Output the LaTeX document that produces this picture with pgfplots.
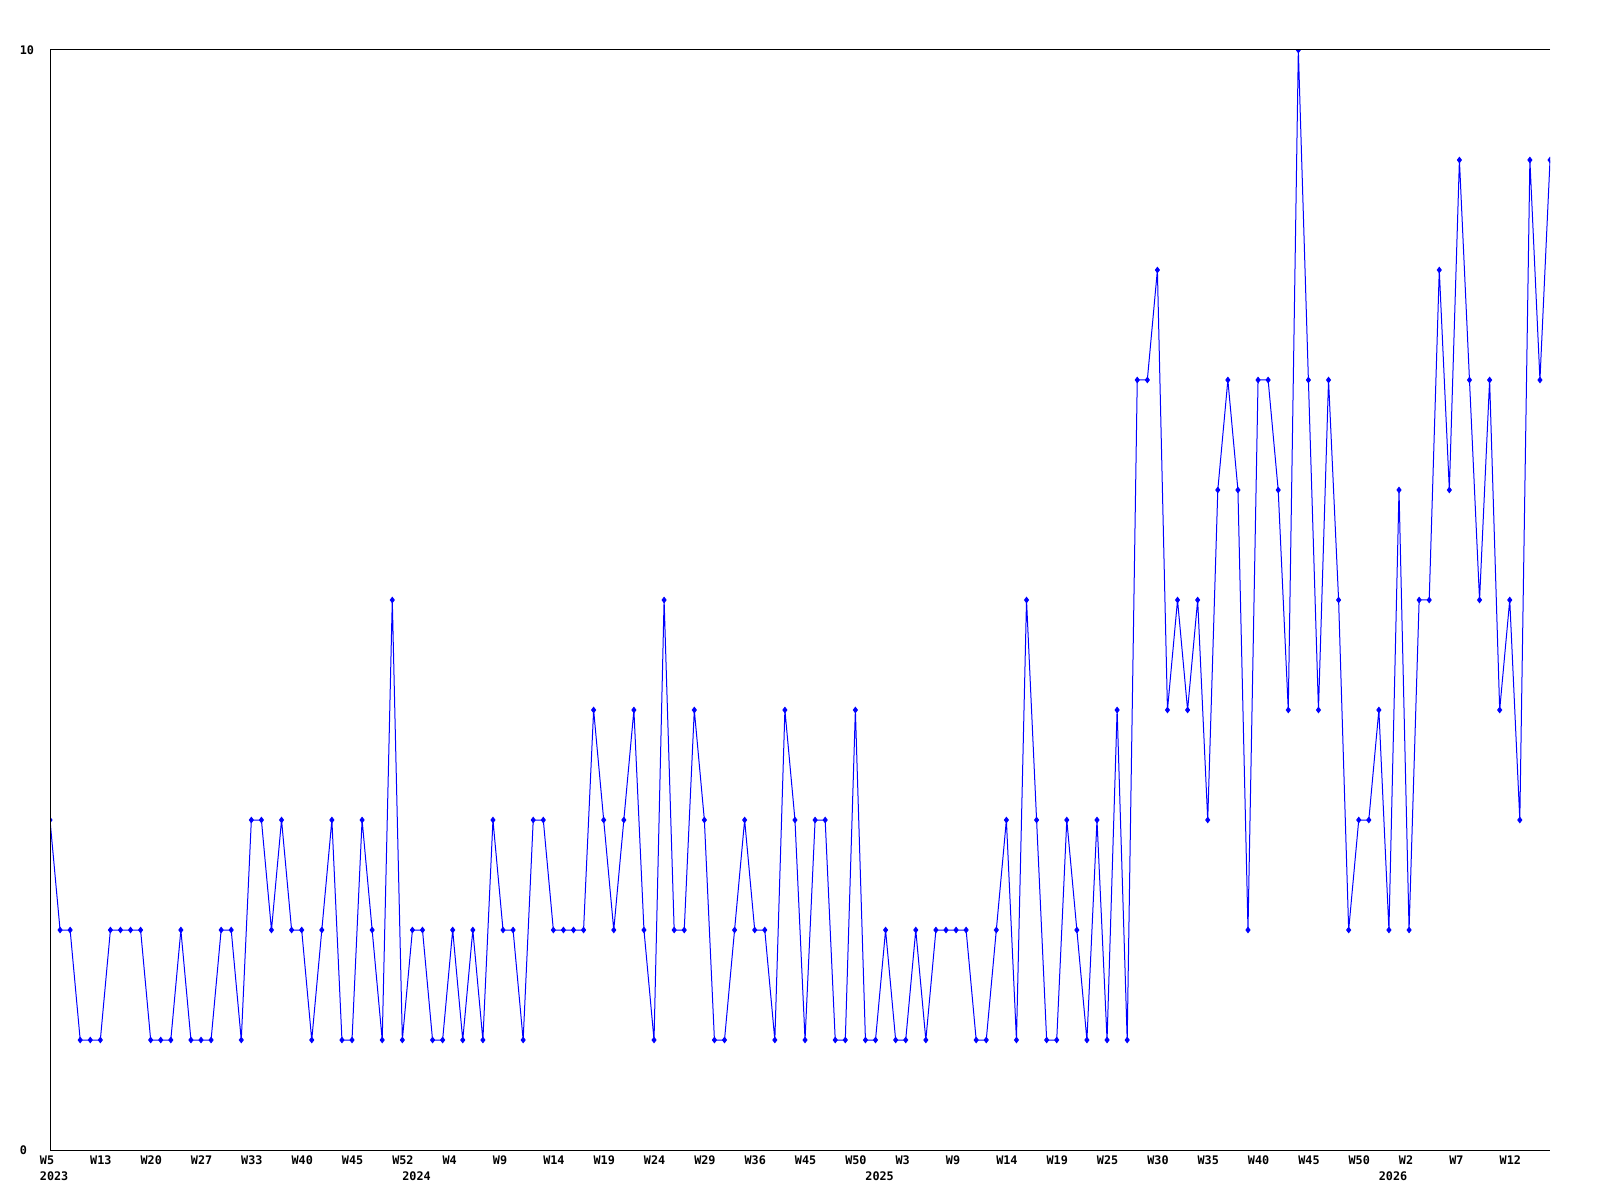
\documentclass[border=0pt]{standalone}
\usepackage{pgfplots}
\pgfplotsset{compat=1.18}
\usepackage{fontspec}
\setmainfont{DejaVu Sans Mono}
\definecolor{lineblue}{RGB}{0,0,255}
\begin{document}
\begin{tikzpicture}[x=1pt,y=1pt]
\useasboundingbox (0,0) rectangle (800,600);
\begin{axis}[
  at={(25pt,25pt)}, anchor=south west,
  scale only axis, width=750pt, height=550pt,
  xmin=0, xmax=149, ymin=0, ymax=10,
  axis line style={draw=none},
  major tick length=0pt,
  tick style={draw=none},
  clip marker paths=true,
  /pgf/number format/assume math mode=true,
  ytick={0,10}, yticklabels={0,10},
  xtick={0,5,...,145},
  xticklabels={W5,W13,W20,W27,W33,W40,W45,W52,W4,W9,W14,W19,W24,W29,W36,W45,W50,W3,W9,W14,W19,W25,W30,W35,W40,W45,W50,W2,W7,W12},
  extra x ticks={0,36,82,133},
  extra x tick labels={2023,2024,2025,2026},
  extra x tick style={xticklabel style={yshift=-7.75pt}},
  ticklabel style={font=\fontsize{5.9}{6}\selectfont\bfseries, inner sep=0pt},
  xticklabel style={anchor=north west, xshift=-5.25pt, yshift=-2.75pt},
  yticklabel style={anchor=west, xshift=-15.3pt},
]
\addplot[color=lineblue, line width=0.5pt, mark=diamond*, mark size=1.3pt, mark options={fill=lineblue}]
  table[x expr=\coordindex, y=v] {
v
3
2
2
1
1
1
2
2
2
2
1
1
1
2
1
1
1
2
2
1
3
3
2
3
2
2
1
2
3
1
1
3
2
1
5
1
2
2
1
1
2
1
2
1
3
2
2
1
3
3
2
2
2
2
4
3
2
3
4
2
1
5
2
2
4
3
1
1
2
3
2
2
1
4
3
1
3
3
1
1
4
1
1
2
1
1
2
1
2
2
2
2
1
1
2
3
1
5
3
1
1
3
2
1
3
1
4
1
7
7
8
4
5
4
5
3
6
7
6
2
7
7
6
4
10
7
4
7
5
2
3
3
4
2
6
2
5
5
8
6
9
7
5
7
4
5
3
9
7
9
};
\draw[black, line width=0.5pt] (rel axis cs:1,1) -- (rel axis cs:0,1) -- (rel axis cs:0,0) -- (rel axis cs:1,0);
\end{axis}
\end{tikzpicture}
\end{document}
